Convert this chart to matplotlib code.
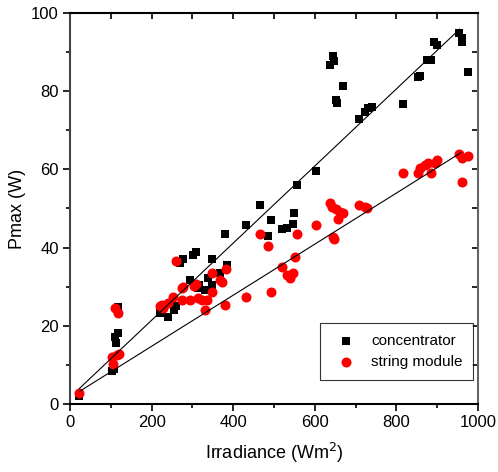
import numpy as np
import matplotlib
matplotlib.use("Agg")
import matplotlib.pyplot as plt
from matplotlib.ticker import MultipleLocator

plt.rcParams['font.family'] = ['Liberation Sans Narrow', 'Liberation Sans', 'DejaVu Sans']

# concentrator (black squares)
conc_x = [23, 103, 108, 111, 112, 118, 118,
          220, 226, 241, 255, 261, 270, 278, 294, 302, 308, 314, 316, 331, 339,
          347, 347, 368, 380, 384, 431, 466, 486, 492, 519, 533, 546, 550, 556,
          602, 637, 644, 647, 652, 655, 668, 709, 723, 731, 739, 817, 854, 858,
          874, 886, 892, 900, 954, 960, 962, 975]
conc_y = [2.0, 8.5, 9.0, 17.2, 15.6, 18.1, 24.8,
          23.2, 23.6, 22.2, 24.0, 25.0, 36.1, 37.1, 31.7, 38.1, 38.8, 29.6, 30.5, 29.2, 32.1,
          37.0, 30.4, 33.4, 43.5, 35.5, 45.8, 50.9, 43.0, 47.1, 44.7, 44.9, 46.0, 48.8, 56.0,
          59.7, 86.7, 88.9, 87.6, 77.7, 76.9, 81.2, 72.9, 74.8, 75.6, 76.0, 76.7, 83.5, 84.0,
          88.0, 88.0, 92.7, 91.8, 94.8, 93.5, 92.5, 85.0]

# string module (red circles)
str_x = [23, 105, 104, 110, 118, 114, 120,
         225, 229, 221, 241, 253, 261, 274, 278, 274, 294, 304, 310, 314, 323, 331, 335,
         347, 349, 368, 372, 382, 380, 431, 466, 486, 492, 520, 533, 538, 547, 551, 556,
         602, 637, 642, 645, 647, 652, 658, 662, 668, 709, 723, 729,
         817, 854, 858, 870, 878, 886, 895, 900, 954, 960, 975, 962]
str_y = [2.9, 10.2, 12.0, 24.5, 23.2, 12.5, 12.8,
         25.3, 24.5, 25.0, 25.9, 27.3, 36.6, 29.6, 30.0, 26.6, 26.6, 30.2, 30.7, 27.0, 26.6, 24.0, 26.6,
         28.6, 33.6, 31.7, 31.3, 34.5, 25.3, 27.3, 43.4, 40.4, 28.6, 35.1, 33.0, 32.1, 33.6, 37.5, 43.5,
         45.8, 51.3, 50.5, 42.8, 42.2, 49.8, 47.2, 49.2, 48.9, 50.9, 50.5, 50.1,
         59.0, 59.0, 60.3, 61.1, 61.6, 59.2, 61.6, 62.3, 63.9, 62.8, 63.5, 56.9]

# linear fits: slope, intercept, x range
conc_fit = [0.0986, 1.7, 23, 955]
str_fit = [0.0653, 1.7, 23, 958]

fig = plt.figure(figsize=(4.98, 4.72), dpi=100)
ax = fig.add_axes([0.1406, 0.1441, 0.8192, 0.8284])

ax.scatter(conc_x, conc_y, marker='s', s=34, color='black', linewidths=0, label='concentrator', zorder=3)
ax.scatter(str_x, str_y, marker='o', s=52, color='#ff0000', linewidths=0, label='string module', zorder=4)

for fit in (conc_fit, str_fit):
    xs = np.array(fit[2:4])
    ax.plot(xs, fit[0] * xs + fit[1], color='black', lw=0.8, zorder=5)

ax.set_xlim(0, 1000)
ax.set_ylim(0, 100)
ax.xaxis.set_major_locator(MultipleLocator(200))
ax.xaxis.set_minor_locator(MultipleLocator(100))
ax.yaxis.set_major_locator(MultipleLocator(20))
ax.yaxis.set_minor_locator(MultipleLocator(10))
ax.tick_params(which='both', direction='out', top=False, right=False, width=1.2,
               labelsize=12, pad=3)
ax.tick_params(which='major', length=5)
ax.tick_params(which='minor', length=3)

# inward ticks on top and right, like the original
sec_x = ax.secondary_xaxis('top')
sec_x.xaxis.set_major_locator(MultipleLocator(100))
sec_x.tick_params(direction='in', length=4, width=1.2, labeltop=False)
sec_y = ax.secondary_yaxis('right')
sec_y.yaxis.set_major_locator(MultipleLocator(10))
sec_y.tick_params(direction='in', length=4, width=1.2, labelright=False)
for s in sec_x.spines.values():
    s.set_visible(False)
for s in sec_y.spines.values():
    s.set_visible(False)

for side in ['top', 'bottom']:
    ax.spines[side].set_linewidth(1.5)
ax.spines['left'].set_linewidth(1.5)
ax.spines['left'].set_color('#444444')
ax.spines['right'].set_linewidth(1.5)
ax.spines['right'].set_color('#666666')

ax.set_xlabel('Irradiance (Wm$^2$)', fontsize=13, labelpad=8)
ax.set_ylabel('Pmax (W)', fontsize=13, labelpad=4)

leg = ax.legend(loc='lower right', bbox_to_anchor=(0.988, 0.061), borderaxespad=0,
                fontsize=11, frameon=True, fancybox=False, edgecolor='black',
                borderpad=0.7, handletextpad=0.6, labelspacing=0.5)
leg.get_frame().set_linewidth(0.8)

plt.savefig('out.png', dpi=100)
